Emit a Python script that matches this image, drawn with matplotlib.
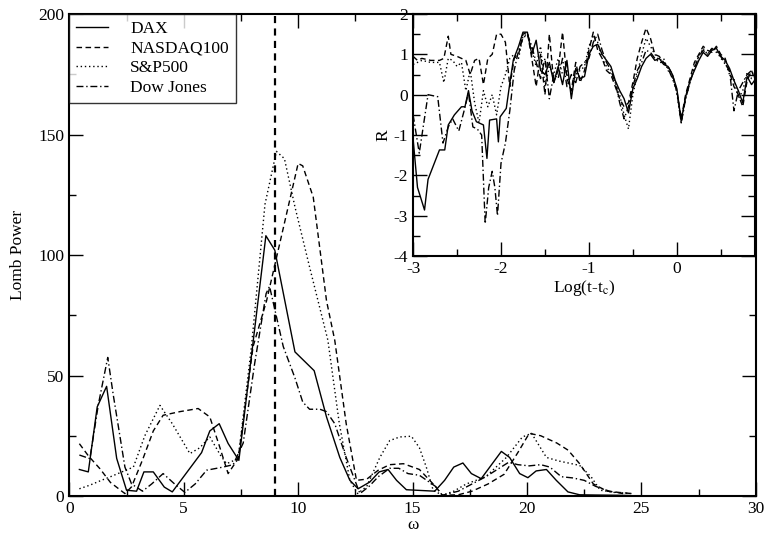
import numpy as np
import matplotlib
matplotlib.use('Agg')
import matplotlib.pyplot as plt
from matplotlib.ticker import MultipleLocator

plt.rcParams['font.family'] = ['Liberation Serif', 'DejaVu Serif']
plt.rcParams['mathtext.fontset'] = 'stix'
plt.rcParams['axes.unicode_minus'] = False
plt.rcParams['font.size'] = 12

# ---- main panel: Lomb periodogram ----
dax_w = [0.44, 0.83, 1.22, 1.63, 2.07, 2.5, 2.94, 3.26, 3.67, 4.15, 4.5, 5.78, 6.14, 6.55,
         6.94, 7.41, 8.59, 8.98, 9.86, 10.7, 11.24, 11.82, 12.26, 12.62, 13.13, 13.54, 13.93,
         14.3, 14.73, 15.97, 16.4, 16.8, 17.2, 17.57, 18.0, 18.88, 19.24, 19.68, 20.04, 20.4,
         20.85, 21.28, 21.79, 22.3, 23.0, 24.0, 24.5]
dax_p = [11, 10, 37, 45.5, 15.6, 2.4, 2, 10, 10, 3.7, 1.7, 18, 27, 30,
         21.8, 14.8, 108, 102, 59.8, 52, 32.8, 16, 6.5, 3, 5.8, 10, 11,
         6.5, 2.6, 2, 6.5, 12, 13.7, 9.3, 7.2, 18.5, 16, 9.3, 7.6, 10.4,
         11, 6.5, 1.7, 0.5, 0.4, 0.3, 0.2]

nasdaq_w = [0.44, 0.83, 1.34, 1.8, 2.43, 2.72, 3.2, 3.67, 4.1, 4.83, 5.63, 6.14, 6.55, 6.94,
            7.38, 8.03, 8.62, 10.0, 10.2, 10.66, 11.24, 11.6, 12.1, 12.55, 13.0, 13.5, 14.0,
            14.6, 15.3, 16.0, 16.3, 17.0, 17.6, 18.3, 19.0, 19.6, 20.1, 20.6, 21.3, 21.8,
            22.3, 22.9, 23.5, 24.0, 24.6]
nasdaq_p = [21.7, 16.7, 11.3, 5.6, 1, 3.8, 15, 27, 33.5, 35, 36.3, 32.8, 21, 9.3,
            15.5, 62, 81, 138, 137, 124, 81, 64.6, 30, 6.5, 7, 10.7, 13,
            13.4, 11, 4, 0.3, 0.5, 2, 5, 9, 18, 26, 25, 22, 19,
            13.4, 5, 2, 1.5, 1]

sp_w = [0.44, 0.9, 1.4, 1.8, 2.3, 2.8, 3.3, 3.96, 4.5, 5.27, 5.7, 6.14, 6.6, 6.87, 7.38,
        7.96, 8.55, 9.05, 9.4, 9.86, 10.5, 11.3, 11.8, 12.26, 12.6, 13.0, 13.57, 14.0,
        14.44, 14.95, 15.3, 15.6, 15.9, 16.3, 16.8, 17.35, 18.2, 19.1, 19.8, 20.2, 20.85,
        21.4, 22.3, 22.8, 23.2, 23.8, 24.6]
sp_p = [3, 4.5, 6.5, 8, 10, 12, 25, 37.6, 30, 17.6, 20, 24.5, 17, 13.4, 15.5,
        62, 121, 143, 140, 120, 95, 64.6, 30, 6.5, 1, 4, 16, 23,
        24.5, 24.8, 20, 12, 2.4, 0.3, 2, 5, 8, 16, 24.5, 26, 16,
        14.5, 12.7, 8, 2.4, 1.5, 1]

dow_w = [0.44, 0.9, 1.27, 1.68, 1.92, 2.43, 2.72, 3.2, 3.6, 4.1, 4.6, 5.05, 5.5, 6.0, 6.72,
         7.16, 7.6, 8.1, 8.6, 8.75, 9.35, 9.86, 10.2, 10.5, 10.95, 11.24, 11.6, 12.1, 12.7,
         13.1, 13.5, 14.0, 14.4, 14.8, 15.3, 16.0, 16.3, 17.0, 17.6, 18.2, 18.7, 19.2, 19.6,
         20.1, 20.6, 21.0, 21.5, 22.0, 22.5, 23.0, 23.6, 24.2]
dow_p = [17, 15.5, 38, 57.5, 42, 12, 5, 2, 5, 9.3, 5, 1.5, 5, 10.7, 12,
         13, 22, 55, 84, 87, 62, 49, 39, 36, 36, 35, 30, 16, 1,
         4, 8, 11.5, 11.5, 9.3, 8.6, 4, 0.3, 2, 5, 8, 11, 14, 13,
         12.5, 13, 12, 8, 7.5, 6.5, 4, 2, 1]

omega_mark = 9.0

# ---- inset: residuals vs log(t - tc) ----
dense_x = [-1.80, -1.75, -1.70, -1.65, -1.60, -1.55, -1.50, -1.45, -1.40, -1.35, -1.30,
           -1.25, -1.20, -1.15, -1.10, -1.05, -1.00, -0.95, -0.90, -0.85, -0.80, -0.75,
           -0.70, -0.65, -0.60, -0.55, -0.50, -0.45, -0.40, -0.35, -0.30, -0.25, -0.20,
           -0.15, -0.10, -0.05, 0.00, 0.05, 0.10, 0.15, 0.20, 0.25, 0.30, 0.35, 0.40,
           0.45, 0.50, 0.55, 0.60, 0.65, 0.70, 0.75, 0.80, 0.85, 0.90]

dax_lx = [-3.0, -2.95, -2.87, -2.83, -2.7, -2.64, -2.6, -2.53, -2.45, -2.41, -2.37, -2.33,
          -2.28, -2.2, -2.16, -2.13, -2.05, -2.03, -2.01, -1.94, -1.9, -1.86]
dax_ly = [-1.1, -2.3, -2.86, -2.1, -1.37, -1.37, -0.75, -0.5, -0.3, -0.3, 0.1, -0.4,
          -0.67, -0.75, -1.58, -0.63, -0.6, -1.17, -0.55, -0.34, 0.28, 0.86]
dax_dy = [1.2, 1.55, 1.55, 1.0, 1.35, 0.6, 0.5, 0.8, 0.3, 0.7, 0.25, 0.85, -0.1, 0.65, 0.4,
          0.45, 1.0, 1.2, 1.25, 1.0, 0.85, 0.7, 0.35, 0.1, -0.1, -0.45, 0.15, 0.4, 0.7, 0.9,
          1.0, 0.85, 0.9, 0.75, 0.7, 0.5, 0.15, -0.65, -0.05, 0.35, 0.6, 0.85, 1.05, 0.95,
          1.1, 1.15, 0.95, 0.85, 0.65, 0.35, 0.1, -0.2, 0.45, 0.25, 0.4]

nasdaq_lx = [-3.0, -2.95, -2.9, -2.8, -2.7, -2.65, -2.6, -2.57, -2.5, -2.45, -2.4, -2.35,
             -2.3, -2.25, -2.2, -2.15, -2.1, -2.05, -2.0, -1.95, -1.9, -1.85]
nasdaq_ly = [0.95, 0.85, 0.9, 0.85, 0.85, 0.9, 1.45, 1.0, 0.95, 0.9, 0.85, 0.5,
             0.85, 0.9, 0.25, 0.9, 1.0, 1.5, 1.5, 1.3, 0.2, 0.9]
nasdaq_dy = [1.0, 1.5, 1.55, 0.9, 0.2, 1.0, 0.0, 1.5, 0.3, 0.6, 1.55, 0.4, 0.1, 0.8, 0.3,
             0.6, 1.1, 1.55, 1.1, 0.9, 0.6, 0.5, 0.2, -0.1, -0.3, -0.2, 0.3, 0.9, 1.3, 1.65,
             1.4, 1.0, 0.95, 0.8, 0.7, 0.5, 0.1, -0.6, 0.0, 0.4, 0.8, 1.0, 1.2, 1.1,
             1.05, 1.2, 1.0, 0.9, 0.55, 0.2, 0.0, -0.3, 0.35, 0.6, 0.3]

sp_lx = [-3.0, -2.9, -2.8, -2.7, -2.65, -2.6, -2.55, -2.5, -2.45, -2.4, -2.35, -2.3,
         -2.25, -2.2, -2.15, -2.1, -2.05, -2.0, -1.95, -1.9, -1.85]
sp_ly = [0.75, 0.85, 0.8, 0.8, 0.3, 0.9, 0.85, 0.7, 0.8, 0.1, 0.6, -0.2,
         -0.7, 0.1, -0.3, 0.0, -0.5, 0.2, 0.5, 0.9, 1.0]
sp_dy = [0.9, 1.45, 1.5, 1.1, 0.7, 1.2, 0.2, 0.7, 0.5, 0.9, 0.5, 0.6, 0.0, 0.5, 0.6,
         0.7, 1.2, 1.45, 1.3, 0.9, 0.7, 0.5, 0.3, 0.0, -0.5, -0.85, 0.0, 0.5, 1.0, 1.4,
         1.2, 1.0, 0.85, 0.9, 0.6, 0.45, 0.05, -0.7, -0.1, 0.3, 0.7, 0.95, 1.15, 1.0,
         1.15, 1.1, 0.9, 0.8, 0.5, 0.4, -0.1, 0.1, 0.55, 0.4, 0.45]

dow_lx = [-3.0, -2.93, -2.83, -2.72, -2.66, -2.6, -2.55, -2.48, -2.42, -2.37, -2.32, -2.27,
          -2.22, -2.18, -2.14, -2.1, -2.07, -2.04, -2.0, -1.95, -1.9, -1.85]
dow_ly = [-0.5, -1.45, 0.0, -0.05, -1.2, -0.8, -0.6, -0.9, -0.4, 0.05, -0.8, -0.85,
          -1.0, -3.2, -2.3, -1.9, -2.3, -3.0, -1.7, -1.2, -0.4, 0.6]
dow_dy = [1.1, 1.4, 1.5, 1.2, 0.8, 0.4, 0.9, -0.1, 0.5, 0.4, 0.9, 0.2, 0.5, 0.3, 0.7,
          0.8, 0.9, 1.3, 1.5, 1.1, 0.8, 0.6, 0.3, -0.2, -0.6, -0.3, 0.2, 0.6, 0.8, 1.1,
          1.05, 0.9, 0.8, 0.8, 0.65, 0.4, 0.1, -0.7, -0.1, 0.3, 0.65, 0.95, 1.1, 1.0,
          1.15, 1.05, 0.95, 0.75, 0.6, -0.4, 0.1, 0.3, 0.5, 0.6, 0.35]

labels = ['DAX', 'NASDAQ100', 'S&P500', 'Dow Jones']
styles = ['-', (0, (4, 2.5)), (0, (1, 2)), (0, (5, 2, 1, 2))]

fig = plt.figure(figsize=(7.65, 5.35), dpi=100)
ax = fig.add_axes([0.0906, 0.0729, 0.8974, 0.9009])

main_sets = [(dax_w, dax_p), (nasdaq_w, nasdaq_p), (sp_w, sp_p), (dow_w, dow_p)]
for (w, p), ls, lab in zip(main_sets, styles, labels):
    ax.plot(w, p, color='black', lw=1.0, linestyle=ls, label=lab)

ax.axvline(omega_mark, color='black', lw=1.6, linestyle=(0, (3.2, 2.4)))

ax.set_xlim(0, 30)
ax.set_ylim(0, 200)
ax.xaxis.set_major_locator(MultipleLocator(5))
ax.xaxis.set_minor_locator(MultipleLocator(2.5))
ax.yaxis.set_major_locator(MultipleLocator(50))
ax.yaxis.set_minor_locator(MultipleLocator(25))
ax.tick_params(which='both', direction='in', top=True, right=True, labelsize=12.5)
ax.tick_params(which='major', length=10, width=1)
ax.tick_params(which='minor', length=5, width=1)
for s in ax.spines.values():
    s.set_linewidth(1.5)
ax.set_xlabel('ω', fontsize=12.5, labelpad=0)
ax.set_ylabel('Lomb Power', fontsize=12.5, labelpad=9)

leg = ax.legend(loc='upper left', fontsize=12.5, frameon=True, fancybox=False,
                borderaxespad=0, handlelength=1.8, labelspacing=0.2,
                handletextpad=1.3, borderpad=0.4)
leg.get_frame().set_edgecolor('black')
leg.get_frame().set_linewidth(1.0)

# inset
ins = fig.add_axes([0.54, 0.5215, 0.447, 0.4523])
inset_sets = [(dax_lx, dax_ly, dax_dy), (nasdaq_lx, nasdaq_ly, nasdaq_dy),
              (sp_lx, sp_ly, sp_dy), (dow_lx, dow_ly, dow_dy)]
for (lx, ly, dy), ls in zip(inset_sets, styles):
    ins.plot(lx + dense_x, ly + dy, color='black', lw=1.0, linestyle=ls)

ins.set_xlim(-3, 0.89)
ins.set_ylim(-4, 2)
ins.xaxis.set_major_locator(MultipleLocator(1))
ins.xaxis.set_minor_locator(MultipleLocator(0.5))
ins.yaxis.set_major_locator(MultipleLocator(1))
ins.yaxis.set_minor_locator(MultipleLocator(0.5))
ins.tick_params(which='both', direction='in', top=True, right=True, labelsize=12.5)
ins.tick_params(which='major', length=10, width=1)
ins.tick_params(which='minor', length=5, width=1)
for s in ins.spines.values():
    s.set_linewidth(1.5)
ins.set_xlabel('Log(t-t$_\\mathrm{c}$)', fontsize=12.5, labelpad=0.5)
ins.set_ylabel('R', fontsize=12.5, labelpad=2)

fig.savefig('out.png', dpi=100)
